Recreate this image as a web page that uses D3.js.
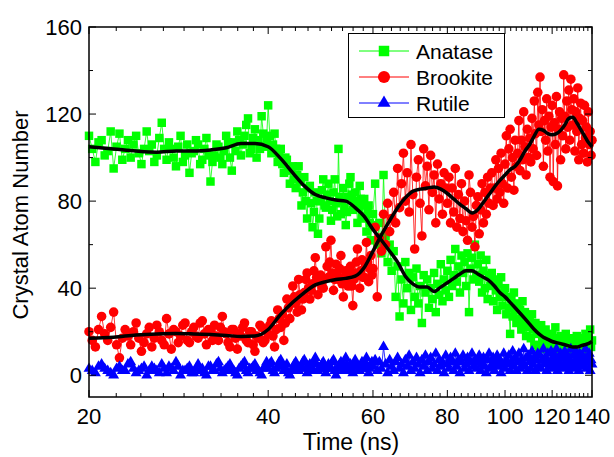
<!DOCTYPE html>
<html lang="en">
<head>
    <meta charset="UTF-8">
    <title>Crystal Atom Number</title>
    <style>
        body {
            margin: 0;
            background-color: #FFFFFF;
        }
        svg text {
            font-family: "Liberation Sans", Arial, sans-serif;
            fill: #000;
        }
    </style>
</head>
<body>
    <div id="chart"></div>

    <script src="https://d3js.org/d3.v7.min.js"></script>
    <script>
        // sampling of the simulation output: 0.25 ns up to 60 ns, 0.5 ns after
        const tStart = 20, tSwitch = 60, fineStep = 0.25, coarseStep = 0.5;
        const majorTicksX = [20, 40, 60, 80, 100, 120, 140];
        const majorTicksY = [0, 40, 80, 120, 160];
        const minorTicksY = [20, 60, 100, 140];

        const anatase = [
            // 20 - 60 ns
            110, 104, 98, 107, 108, 101, 103, 112, 95, 105, 111, 99, 104, 108, 100, 106, 110, 102, 97, 104,
            112, 103, 106, 98, 101, 109, 116, 104, 99, 107, 104, 100, 96, 105, 110, 98, 101, 106, 93, 102,
            103, 108, 106, 97, 99, 104, 109, 101, 89, 98, 101, 106, 105, 100, 97, 103, 110, 107, 100, 94,
            107, 103, 112, 108, 101, 106, 110, 115, 118, 102, 104, 109, 113, 100, 108, 104, 119, 111, 105, 108,
            124, 110, 102, 106, 111, 104, 98, 101, 104, 97, 93, 100, 99, 95, 88, 94, 96, 90, 86, 92,
            96, 89, 78, 84, 91, 80, 72, 86, 87, 79, 68, 75, 84, 80, 65, 72, 80, 85, 90, 78,
            77, 83, 88, 80, 71, 76, 84, 90, 79, 73, 104, 82, 74, 80, 86, 77, 69, 75, 82, 88,
            91, 83, 76, 80, 84, 79, 70, 77, 87, 81, 73, 78, 81, 72, 66, 75, 78, 70, 62, 69,
            // 60 - 140 ns
            74, 88, 60, 70, 56, 92, 64, 52, 60, 48,
            57, 36, 50, 27, 44, 33, 52, 40, 47, 30,
            45, 36, 49, 33, 41, 24, 46, 38, 44, 31,
            40, 35, 47, 29, 42, 37, 51, 34, 44, 39,
            48, 36, 53, 41, 46, 58, 43, 50, 38, 55,
            47, 52, 41, 56, 29, 49, 54, 44, 60, 46,
            51, 43, 55, 38, 48, 40, 53, 35, 46, 41,
            47, 34, 44, 39, 30, 42, 36, 45, 32, 38,
            40, 28, 36, 31, 19, 35, 27, 38, 30, 24,
            33, 26, 30, 21, 34, 24, 29, 18, 27, 22,
            25, 17, 28, 21, 14, 24, 19, 22, 13, 20,
            23, 16, 19, 12, 21, 15, 18, 11, 17, 14,
            19, 13, 16, 22, 12, 17, 14, 10, 18, 15,
            12, 16, 11, 19, 14, 10, 15, 13, 17, 11,
            14, 10, 16, 12, 18, 13, 9, 15, 11, 17,
            13, 16, 12, 19, 14, 11, 17, 15, 21, 13,
            16
        ];

        const brookite = [
            // 20 - 60 ns
            20, 16, 13, 21, 27, 19, 16, 22, 29, 14, 8, 17, 21, 18, 14, 20, 24, 17, 11, 15,
            19, 22, 13, 17, 23, 20, 16, 14, 26, 19, 12, 21, 20, 15, 18, 23, 24, 16, 15, 20,
            22, 18, 17, 24, 25, 19, 14, 21, 20, 16, 23, 18, 16, 22, 27, 20, 19, 15, 13, 21,
            21, 17, 12, 19, 18, 22, 24, 16, 15, 20, 20, 14, 11, 18, 17, 23, 22, 15, 16, 21,
            19, 23, 25, 18, 13, 21, 30, 26, 22, 28, 16, 24, 35, 31, 26, 33, 41, 36, 33, 29,
            44, 37, 30, 35, 38, 44, 47, 40, 35, 39, 42, 48, 54, 45, 37, 43, 46, 41, 40, 44,
            59, 50, 45, 52, 62, 47, 39, 44, 51, 46, 44, 49, 55, 42, 36, 45, 48, 43, 41, 47,
            50, 41, 32, 44, 47, 52, 58, 46, 40, 48, 53, 45, 45, 51, 61, 52, 43, 49, 55, 46,
            // 60 - 140 ns
            49, 68, 36, 63, 57, 74, 60, 79, 66, 72,
            84, 70, 95, 77, 88, 102, 80, 93, 75, 106,
            83, 58, 91, 99, 79, 64, 104, 87, 96, 76,
            101, 84, 92, 70, 97, 81, 88, 74, 93, 86,
            79, 91, 70, 86, 75, 95, 68, 83, 72, 88,
            66, 80, 71, 62, 92, 84, 68, 73, 59, 78,
            82, 65, 76, 88, 70, 84, 74, 91, 79, 86,
            93, 78, 86, 99, 81, 95, 84, 102, 88, 79,
            97, 110, 86, 104, 113, 91, 100, 85, 108, 96,
            102, 117, 94, 108, 99, 121, 105, 92, 113, 100,
            109, 98, 118, 104, 126, 111, 101, 130, 115, 137,
            112, 122, 96, 117, 108, 127, 103, 119, 91, 114,
            124, 89, 116, 106, 128, 87, 113, 121, 99, 118,
            110, 138, 119, 104, 126, 114, 131, 108, 136, 122,
            115, 127, 103, 121, 112, 132, 99, 118, 125, 106,
            117, 102, 124, 109, 114, 98, 121, 106, 112, 101,
            108
        ];

        const rutile = [
            // 20 - 60 ns
            3, 2, 1, 4, 5, 3, 2, 1, 0, 3, 4, 2, 2, 5, 6, 3, 1, 2, 3, 4,
            0, 2, 4, 3, 2, 1, 5, 3, 1, 4, 3, 2, 6, 4, 0, 2, 2, 3, 4, 1,
            1, 3, 5, 2, 3, 1, 0, 4, 4, 2, 2, 5, 6, 3, 1, 2, 3, 4, 5, 2,
            2, 1, 0, 3, 4, 5, 6, 2, 1, 3, 3, 4, 5, 2, 2, 1, 0, 3, 4, 6,
            3, 5, 6, 2, 1, 3, 4, 6, 7, 4, 2, 3, 5, 1, 0, 2, 3, 5, 6, 4,
            2, 3, 4, 6, 7, 3, 1, 4, 5, 2, 3, 6, 8, 5, 2, 3, 4, 5, 6, 3,
            1, 3, 5, 4, 3, 6, 7, 2, 0, 3, 4, 5, 6, 3, 2, 4, 8, 5, 3, 2,
            5, 3, 1, 4, 7, 5, 4, 2, 2, 4, 6, 3, 3, 5, 8, 4, 1, 3, 5, 6,
            // 60 - 140 ns
            4, 7, 2, 6, 3, 13, 5, 1, 7, 4,
            2, 6, 8, 3, 5, 1, 7, 4, 9, 2,
            6, 3, 8, 5, 1, 7, 4, 9, 2, 6,
            8, 3, 5, 10, 2, 7, 4, 6, 1, 9,
            5, 3, 8, 6, 2, 10, 4, 7, 1, 6,
            9, 3, 5, 8, 2, 6, 10, 4, 7, 3,
            6, 9, 2, 5, 8, 4, 1, 7, 10, 3,
            5, 8, 2, 6, 9, 4, 7, 1, 5, 10,
            3, 7, 5, 9, 2, 6, 11, 4, 8, 2,
            6, 10, 3, 7, 5, 12, 4, 8, 2, 9,
            6, 3, 11, 5, 8, 2, 7, 10, 4, 9,
            3, 7, 12, 5, 8, 2, 10, 6, 4, 11,
            7, 3, 9, 5, 12, 2, 8, 6, 10, 4,
            8, 3, 11, 6, 4, 9, 2, 7, 12, 5,
            3, 9, 6, 11, 4, 8, 2, 10, 7, 5,
            9, 4, 7, 12, 3, 8, 6, 10, 2, 7,
            5
        ];

        // smoothed curves, one value every 2 ns from 20 to 140
        const smoothStep = 2;
        const anataseSmooth = [
            105, 104, 103, 102.5, 103, 103, 103.5, 104.5, 106.5, 106.5,
            105, 99.5, 93, 87, 83, 81.5, 80.5, 80, 77, 73,
            67, 62, 57, 52, 45.5, 42, 40.5, 40.5, 38.5, 40.5,
            42.5, 44.5, 46.5, 48, 48, 46.5, 45, 43.5, 41, 38,
            36, 33.5, 31, 28.5, 26, 23.5, 21, 19, 17.5, 16.5,
            15.5, 15, 14.5, 14, 13.5, 13, 13, 13.5, 14, 14.5,
            15.5
        ];
        const brookiteSmooth = [
            17, 17.5, 18.5, 19, 19.2, 19, 18.7, 18.3, 17.8, 18,
            21, 28, 33.5, 38, 41.5, 43, 44, 44.5, 45.5, 49.5,
            57, 64.5, 71, 77, 81.5, 84.5, 85.5, 86, 86.5, 85.5,
            83.5, 81, 78.5, 76.5, 74.5, 76, 79.5, 83, 86.5, 89.5,
            92, 94.5, 96, 99, 103, 106, 110, 113, 112.5, 111,
            110.5, 111, 112.5, 115, 118, 118.5, 116, 113, 110, 107,
            105
        ];

        const series = [
            { name: "Anatase", values: anatase, color: "#00FF00", shape: "square" },
            { name: "Brookite", values: brookite, color: "#FF0000", shape: "circle" },
            { name: "Rutile", values: rutile, color: "#0000FF", shape: "triangle" }
        ];

        const width = 614, height = 457;
        const margin = { left: 89, right: 22, top: 27, bottom: 60 };

        const svg = d3.select("#chart").append("svg")
            .attr("width", width)
            .attr("height", height);

        const x = d3.scaleLog()
            .domain([20, 140])
            .range([margin.left, width - margin.right]);

        const y = d3.scaleLinear()
            .domain([-10, 160])
            .range([height - margin.bottom, margin.top]);

        const x0 = x.range()[0], x1 = x.range()[1];
        const y0 = y.range()[0], y1 = y.range()[1];

        const nFine = (tSwitch - tStart) / fineStep;
        const timeAt = i => i < nFine ? tStart + i * fineStep : tSwitch + (i - nFine) * coarseStep;

        // marker symbols
        const symbols = {
            square: d3.symbol().type(d3.symbolSquare).size(72),
            circle: d3.symbol().type(d3.symbolCircle).size(72),
            triangle: d3.symbol().type(d3.symbolTriangle).size(52)
        };
        const legendSymbols = {
            square: d3.symbol().type(d3.symbolSquare).size(110),
            circle: d3.symbol().type(d3.symbolCircle).size(115),
            triangle: d3.symbol().type(d3.symbolTriangle).size(75)
        };

        const line = d3.line()
            .x((d, i) => x(timeAt(i)))
            .y(d => y(d));

        series.forEach(s => {
            const g = svg.append("g");
            g.append("path")
                .attr("d", line(s.values))
                .attr("fill", "none")
                .attr("stroke", s.color)
                .attr("stroke-width", 0.8);
            g.selectAll("path.marker")
                .data(s.values)
                .enter().append("path")
                .attr("class", "marker")
                .attr("d", symbols[s.shape])
                .attr("transform", (d, i) => `translate(${x(timeAt(i))},${y(d)})`)
                .attr("fill", s.color);
        });

        const smoothLine = d3.line()
            .x((d, i) => x(tStart + i * smoothStep))
            .y(d => y(d))
            .curve(d3.curveMonotoneX);

        [anataseSmooth, brookiteSmooth].forEach(vals => {
            svg.append("path")
                .attr("d", smoothLine(vals))
                .attr("fill", "none")
                .attr("stroke", "#000")
                .attr("stroke-width", 3.5)
                .attr("stroke-linejoin", "round");
        });

        // frame
        svg.append("rect")
            .attr("x", x0)
            .attr("y", y1)
            .attr("width", x1 - x0)
            .attr("height", y0 - y1)
            .attr("fill", "none")
            .attr("stroke", "#000")
            .attr("stroke-width", 1.5);

        // x ticks: 8 minor ticks inside each major interval, mirrored on top
        const minorTicksX = [];
        for (let k = 0; k < majorTicksX.length - 1; k++) {
            const a = majorTicksX[k], b = majorTicksX[k + 1];
            for (let j = 1; j <= 8; j++) minorTicksX.push(a + (b - a) * j / 9);
        }

        const ticks = svg.append("g").attr("stroke", "#000").attr("stroke-width", 1);
        majorTicksX.forEach(v => {
            ticks.append("line").attr("x1", x(v)).attr("x2", x(v)).attr("y1", y0).attr("y2", y0 - 7);
            ticks.append("line").attr("x1", x(v)).attr("x2", x(v)).attr("y1", y1).attr("y2", y1 + 7);
        });
        minorTicksX.forEach(v => {
            ticks.append("line").attr("x1", x(v)).attr("x2", x(v)).attr("y1", y0).attr("y2", y0 - 4);
            ticks.append("line").attr("x1", x(v)).attr("x2", x(v)).attr("y1", y1).attr("y2", y1 + 4);
        });
        majorTicksY.forEach(v => {
            ticks.append("line").attr("x1", x0).attr("x2", x0 + 7).attr("y1", y(v)).attr("y2", y(v));
            ticks.append("line").attr("x1", x1).attr("x2", x1 - 7).attr("y1", y(v)).attr("y2", y(v));
        });
        minorTicksY.forEach(v => {
            ticks.append("line").attr("x1", x0).attr("x2", x0 + 4).attr("y1", y(v)).attr("y2", y(v));
            ticks.append("line").attr("x1", x1).attr("x2", x1 - 4).attr("y1", y(v)).attr("y2", y(v));
        });

        // tick labels
        svg.append("g").selectAll("text")
            .data(majorTicksX)
            .enter().append("text")
            .attr("x", d => x(d))
            .attr("y", y0 + 27)
            .attr("text-anchor", "middle")
            .attr("font-size", 22)
            .text(d => d);

        svg.append("g").selectAll("text")
            .data(majorTicksY)
            .enter().append("text")
            .attr("x", x0 - 7)
            .attr("y", d => y(d) + 8)
            .attr("text-anchor", "end")
            .attr("font-size", 22)
            .text(d => d);

        // axis titles
        svg.append("text")
            .attr("x", 351)
            .attr("y", 450)
            .attr("text-anchor", "middle")
            .attr("font-size", 23)
            .text("Time (ns)");

        svg.append("text")
            .attr("transform", "translate(28,215) rotate(-90)")
            .attr("text-anchor", "middle")
            .attr("font-size", 22)
            .text("Crystal Atom Number");

        // legend
        const legend = svg.append("g");
        legend.append("rect")
            .attr("x", 348.5).attr("y", 33.5)
            .attr("width", 156).attr("height", 84)
            .attr("fill", "#fff")
            .attr("stroke", "#000")
            .attr("stroke-width", 1);

        series.forEach((s, i) => {
            const cy = 51 + i * 26;
            legend.append("line")
                .attr("x1", 359).attr("x2", 409)
                .attr("y1", cy).attr("y2", cy)
                .attr("stroke", s.color)
                .attr("stroke-width", 1);
            legend.append("path")
                .attr("d", legendSymbols[s.shape])
                .attr("transform", `translate(384,${cy})`)
                .attr("fill", s.color);
            legend.append("text")
                .attr("x", 416)
                .attr("y", cy + 7.5)
                .attr("font-size", 21)
                .text(s.name);
        });
    </script>
</body>
</html>
